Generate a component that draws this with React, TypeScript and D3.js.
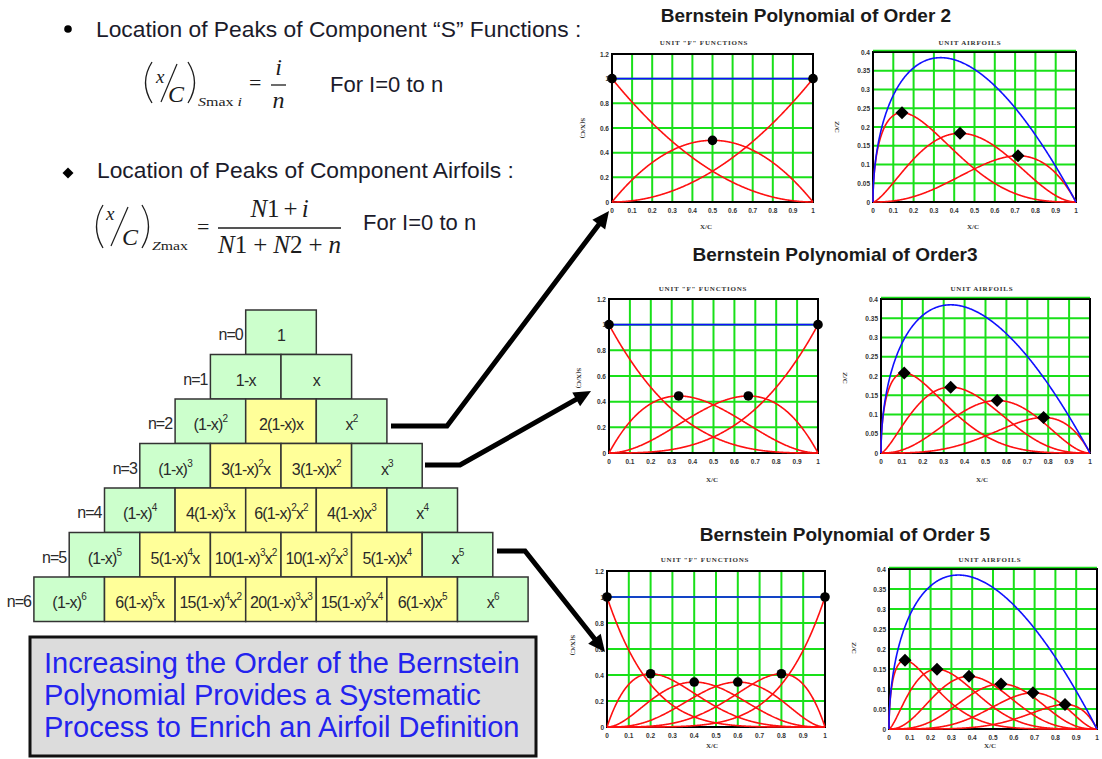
import React from "react";
import * as d3 from "d3";

// Polynomial orders shown on the right, and the class-function exponents
const ORDERS = [2, 3, 5];
const N1 = 0.5;
const N2 = 1.0;

// Axis ticks
const X_TICKS = [0, 0.1, 0.2, 0.3, 0.4, 0.5, 0.6, 0.7, 0.8, 0.9, 1];
const X_TICK_LABELS = ["0", "0.1", "0.2", "0.3", "0.4", "0.5", "0.6", "0.7", "0.8", "0.9", "1"];
const S_TICKS = [0, 0.2, 0.4, 0.6, 0.8, 1, 1.2];
const S_TICK_LABELS = ["0", "0.2", "0.4", "0.6", "0.8", "1", "1.2"];
const Z_TICKS = [0, 0.05, 0.1, 0.15, 0.2, 0.25, 0.3, 0.35, 0.4];
const Z_TICK_LABELS = ["0", "0.05", "0.1", "0.15", "0.2", "0.25", "0.3", "0.35", "0.4"];

// Pascal-style pyramid of Bernstein terms ("^k" marks a superscript)
const ROW_LABELS = ["n=0", "n=1", "n=2", "n=3", "n=4", "n=5", "n=6"];
const PYRAMID_ROWS = [
  ["1"],
  ["1-x", "x"],
  ["(1-x)^2", "2(1-x)x", "x^2"],
  ["(1-x)^3", "3(1-x)^2x", "3(1-x)x^2", "x^3"],
  ["(1-x)^4", "4(1-x)^3x", "6(1-x)^2x^2", "4(1-x)x^3", "x^4"],
  ["(1-x)^5", "5(1-x)^4x", "10(1-x)^3x^2", "10(1-x)^2x^3", "5(1-x)x^4", "x^5"],
  ["(1-x)^6", "6(1-x)^5x", "15(1-x)^4x^2", "20(1-x)^3x^3", "15(1-x)^2x^4", "6(1-x)x^5", "x^6"],
];

const NOTE_LINES = [
  "Increasing the Order of the Bernstein",
  "Polynomial Provides a Systematic",
  "Process to Enrich an Airfoil Definition",
];

const SANS = "'Liberation Sans', Arial, Helvetica, sans-serif";
const SERIF = "'Liberation Serif', 'Times New Roman', serif";

// Layout of the three chart pairs
const PANELS = [
  {
    title: "Bernstein Polynomial of Order 2", tx: 806, ty: 22,
    s: { l: 612, r: 813, t: 54, b: 202 }, z: { l: 873, r: 1076, t: 52, b: 202 },
    subY: 45, sSubX: 704, zSubX: 970, xlabY: 229, sXlabX: 706, zXlabX: 973,
    sYlab: [581, 128], zYlab: [835, 127],
  },
  {
    title: "Bernstein Polynomial of Order3", tx: 835, ty: 261,
    s: { l: 609, r: 818, t: 299, b: 453 }, z: { l: 881, r: 1090, t: 299, b: 453 },
    subY: 291, sSubX: 703, zSubX: 982, xlabY: 482, sXlabX: 712, zXlabX: 982,
    sYlab: [577, 378], zYlab: [843, 378],
  },
  {
    title: "Bernstein Polynomial of Order 5", tx: 845, ty: 541,
    s: { l: 607, r: 825, t: 571, b: 727 }, z: { l: 889, r: 1097, t: 569, b: 729 },
    subY: 562, sSubX: 705, zSubX: 990, xlabY: 748, sXlabX: 712, zXlabX: 990,
    sYlab: [571, 645], zYlab: [852, 648],
  },
];

function binom(n: number, k: number) {
  let r = 1;
  for (let j = 1; j <= k; j++) r = (r * (n - k + j)) / j;
  return r;
}
const bern = (n: number, i: number, x: number) =>
  binom(n, i) * Math.pow(x, i) * Math.pow(1 - x, n - i);
const classFn = (x: number) => Math.pow(x, N1) * Math.pow(1 - x, N2);

const XS = [0, 0.0002, 0.0008, 0.002, 0.004].concat(d3.range(1, 401).map((k) => k / 400));

type Box = { l: number; r: number; t: number; b: number };

function Chart({ order, box, kind }: { order: number; box: Box; kind: "s" | "z" }) {
  const isS = kind === "s";
  const ticks = isS ? S_TICKS : Z_TICKS;
  const tickLabels = isS ? S_TICK_LABELS : Z_TICK_LABELS;
  const x = d3.scaleLinear().domain([0, 1]).range([box.l, box.r]);
  const y = d3.scaleLinear().domain([0, ticks[ticks.length - 1]]).range([box.b, box.t]);
  const line = d3
    .line<[number, number]>()
    .x((d) => x(d[0]))
    .y((d) => y(d[1]));

  const comp = (i: number, v: number) => (isS ? bern(order, i, v) : classFn(v) * bern(order, i, v));
  const idx = d3.range(0, order + 1);
  const reds = idx.map((i) => line(XS.map((v) => [v, comp(i, v)] as [number, number])) || "");
  const blue = line(XS.map((v) => [v, d3.sum(idx, (i) => comp(i, v))] as [number, number])) || "";

  const peaks = idx.map((i) => {
    const px = isS ? i / order : (N1 + i) / (N1 + N2 + order);
    return [px, comp(i, px)] as [number, number];
  });

  const green = "#19e019";
  return (
    <g>
      {X_TICKS.slice(1, -1).map((t) => (
        <line key={"v" + t} x1={x(t)} x2={x(t)} y1={box.t} y2={box.b} stroke={green} strokeWidth={2} />
      ))}
      {ticks.slice(1, isS ? -1 : undefined).map((t) => (
        <line key={"h" + t} x1={box.l} x2={box.r} y1={y(t)} y2={y(t)} stroke={green} strokeWidth={2} />
      ))}
      <rect x={box.l} y={box.t} width={box.r - box.l} height={box.b - box.t} fill="none" stroke="#000" strokeWidth={2} />
      {!isS && <line x1={box.l} x2={box.r} y1={box.t - 1.5} y2={box.t - 1.5} stroke={green} strokeWidth={1.5} />}
      {reds.map((p, i) => (
        <path key={"r" + i} d={p} fill="none" stroke="#ff1010" strokeWidth={1.6} />
      ))}
      <path d={blue} fill="none" stroke="#1010ff" strokeWidth={1.6} />
      {peaks.map(([px, py], i) =>
        isS ? (
          <circle key={"m" + i} cx={x(px)} cy={y(py)} r={4.8} fill="#000" />
        ) : (
          <path
            key={"m" + i}
            d={`M${x(px)},${y(py) - 6.5}L${x(px) + 6.5},${y(py)}L${x(px)},${y(py) + 6.5}L${x(px) - 6.5},${y(py)}Z`}
            fill="#000"
          />
        )
      )}
      {X_TICKS.map((t, i) => (
        <text key={"xt" + i} x={x(t)} y={box.b + 11} fontSize={6.5} fontWeight="bold" fontFamily={SANS} fill="#333" textAnchor="middle">
          {X_TICK_LABELS[i]}
        </text>
      ))}
      {ticks.map((t, i) => (
        <text key={"yt" + i} x={box.l - 3} y={y(t) + 2.5} fontSize={6.5} fontWeight="bold" fontFamily={SANS} fill="#333" textAnchor="end">
          {tickLabels[i]}
        </text>
      ))}
    </g>
  );
}

function Term({ label, cx, y }: { label: string; cx: number; y: number }) {
  const parts = label.split(/\^(\d)/);
  return (
    <text x={cx} y={y} textAnchor="middle" fontFamily={SANS} fontSize={16} letterSpacing={-0.8} fill="#2a2a2a">
      {parts.map((p, k) =>
        k % 2 === 1 ? (
          <tspan key={k} dy={-8} fontSize={10}>
            {p}
          </tspan>
        ) : (
          <tspan key={k} dy={k > 0 ? 8 : 0}>
            {p}
          </tspan>
        )
      )}
    </text>
  );
}

function Arrow({ pts }: { pts: [number, number][] }) {
  const tip = pts[pts.length - 1];
  const prev = pts[pts.length - 2];
  const dx = tip[0] - prev[0];
  const dy = tip[1] - prev[1];
  const len = Math.hypot(dx, dy);
  const ux = dx / len;
  const uy = dy / len;
  const L = 17;
  const W = 8;
  const bx = tip[0] - ux * L;
  const by = tip[1] - uy * L;
  const shaft = pts.slice(0, -1).concat([[bx + ux * 3, by + uy * 3]]);
  return (
    <g>
      <polyline points={shaft.map((p) => p.join(",")).join(" ")} fill="none" stroke="#000" strokeWidth={5} strokeLinejoin="miter" />
      <polygon
        points={`${tip[0]},${tip[1]} ${bx - uy * W},${by + ux * W} ${bx + uy * W},${by - ux * W}`}
        fill="#000"
      />
    </g>
  );
}

function Pyramid() {
  const cellW = 70.6;
  const rowH = 44.5;
  const cx = 281;
  const top = 310;
  return (
    <g>
      {PYRAMID_ROWS.map((row, n) => {
        const left = cx - ((n + 1) * cellW) / 2;
        const ty = top + n * rowH;
        return (
          <g key={n}>
            {row.map((lab, i) => {
              const edge = i === 0 || i === row.length - 1;
              return (
                <g key={i}>
                  <rect
                    x={left + i * cellW}
                    y={ty}
                    width={cellW}
                    height={rowH}
                    fill={edge ? "#ccffcc" : "#ffff99"}
                    stroke="#333"
                    strokeWidth={1.5}
                  />
                  <Term label={lab} cx={left + i * cellW + cellW / 2} y={ty + 31} />
                </g>
              );
            })}
            <text x={left - 3} y={ty + 30} textAnchor="end" fontFamily={SANS} fontSize={16} letterSpacing={-1} fill="#2a2a2a">
              {ROW_LABELS[n]}
            </text>
          </g>
        );
      })}
    </g>
  );
}

function Formulas() {
  const ink = "#1c1c1c";
  return (
    <g fill={ink}>
      {/* first bullet */}
      <circle cx={68} cy={29} r={3.8} fill="#000" />
      <text x={96} y={37} fontFamily={SANS} fontSize={22.8} fill="#1b1b2b">
        Location of Peaks of Component “S” Functions :
      </text>
      <path d="M152,62 Q139,82.5 152,103" fill="none" stroke={ink} strokeWidth={1.3} />
      <text x={156} y={83} fontFamily={SERIF} fontStyle="italic" fontSize={19}>x</text>
      <line x1={177} y1={64} x2={161} y2={102} stroke={ink} strokeWidth={1.2} />
      <text x={168} y={102} fontFamily={SERIF} fontStyle="italic" fontSize={24}>C</text>
      <path d="M188,62 Q201,82.5 188,103" fill="none" stroke={ink} strokeWidth={1.3} />
      <text x={198} y={106} fontFamily={SERIF} fontSize={12} textLength={44} lengthAdjust="spacingAndGlyphs">
        <tspan fontStyle="italic">S</tspan>max <tspan fontStyle="italic">i</tspan>
      </text>
      <text x={249} y={90} fontFamily={SERIF} fontSize={22}>=</text>
      <text x={278.5} y={75} fontFamily={SERIF} fontStyle="italic" fontSize={24} textAnchor="middle">i</text>
      <line x1={271} y1={85} x2={286} y2={85} stroke={ink} strokeWidth={1.3} />
      <text x={278.5} y={108} fontFamily={SERIF} fontStyle="italic" fontSize={24} textAnchor="middle">n</text>
      <text x={330} y={92} fontFamily={SANS} fontSize={22} fill="#1b1b2b">For I=0 to n</text>

      {/* second bullet */}
      <path d="M68,167.5 L73.5,173 L68,178.5 L62.5,173 Z" fill="#000" />
      <text x={97} y={178} fontFamily={SANS} fontSize={22.8} fill="#1b1b2b">
        Location of Peaks of Component Airfoils :
      </text>
      <path d="M103,205 Q90,226.5 103,248" fill="none" stroke={ink} strokeWidth={1.3} />
      <text x={106} y={220} fontFamily={SERIF} fontStyle="italic" fontSize={19}>x</text>
      <line x1={128} y1={207} x2={111} y2={246} stroke={ink} strokeWidth={1.2} />
      <text x={122} y={245} fontFamily={SERIF} fontStyle="italic" fontSize={24}>C</text>
      <path d="M142,205 Q155,226.5 142,248" fill="none" stroke={ink} strokeWidth={1.3} />
      <text x={152} y={250} fontFamily={SERIF} fontSize={12} textLength={36} lengthAdjust="spacingAndGlyphs">
        <tspan fontStyle="italic">Z</tspan>max
      </text>
      <text x={197} y={234} fontFamily={SERIF} fontSize={22}>=</text>
      <text x={279.5} y={217} fontFamily={SERIF} fontSize={25} textAnchor="middle">
        <tspan fontStyle="italic">N</tspan>1<tspan dx={4}>+</tspan><tspan dx={4} fontStyle="italic">i</tspan>
      </text>
      <line x1={218} y1={228} x2={341} y2={228} stroke={ink} strokeWidth={1.3} />
      <text x={279.5} y={253} fontFamily={SERIF} fontSize={25} textAnchor="middle">
        <tspan fontStyle="italic">N</tspan>1<tspan dx={6}>+</tspan>
        <tspan dx={6} fontStyle="italic">N</tspan>2<tspan dx={6}>+</tspan>
        <tspan dx={6} fontStyle="italic">n</tspan>
      </text>
      <text x={363} y={230} fontFamily={SANS} fontSize={22} fill="#1b1b2b">For I=0 to n</text>
    </g>
  );
}

export default function App() {
  return (
    <svg
      width={1102}
      height={759}
      viewBox="0 0 1102 759"
      style={{ position: "absolute", left: 0, top: 0, background: "#fff" }}
    >
      <rect width={1102} height={759} fill="#fff" />
      <Formulas />
      <Pyramid />

      {/* note box */}
      <rect x={30} y={637} width={506} height={119} fill="#dcdcdc" stroke="#111" strokeWidth={3} />
      {NOTE_LINES.map((t, i) => (
        <text key={i} x={44} y={673 + i * 32} fontFamily={SANS} fontSize={29} fill="#2323ee">
          {t}
        </text>
      ))}

      {PANELS.map((p, k) => (
        <g key={k}>
          <text x={p.tx} y={p.ty} textAnchor="middle" fontFamily={SANS} fontWeight="bold" fontSize={19} fill="#1a1a1a">
            {p.title}
          </text>
          <text x={p.sSubX} y={p.subY} textAnchor="middle" fontFamily={SERIF} fontWeight="bold" fontSize={7} letterSpacing={0.8} fill="#333">
            UNIT "F" FUNCTIONS
          </text>
          <text x={p.zSubX} y={p.subY} textAnchor="middle" fontFamily={SERIF} fontWeight="bold" fontSize={7} letterSpacing={0.8} fill="#333">
            UNIT AIRFOILS
          </text>
          <Chart order={ORDERS[k]} box={p.s} kind="s" />
          <Chart order={ORDERS[k]} box={p.z} kind="z" />
          <text x={p.sXlabX} y={p.xlabY} textAnchor="middle" fontFamily={SERIF} fontWeight="bold" fontSize={7} fill="#333">X/C</text>
          <text x={p.zXlabX} y={p.xlabY} textAnchor="middle" fontFamily={SERIF} fontWeight="bold" fontSize={7} fill="#333">X/C</text>
          <text
            transform={`translate(${p.sYlab[0]},${p.sYlab[1]}) rotate(90)`}
            textAnchor="middle"
            fontFamily={SERIF}
            fontWeight="bold"
            fontSize={7}
            fill="#333"
          >
            S(X/C)
          </text>
          <text
            transform={`translate(${p.zYlab[0]},${p.zYlab[1]}) rotate(90)`}
            textAnchor="middle"
            fontFamily={SERIF}
            fontWeight="bold"
            fontSize={7}
            fill="#333"
          >
            Z/C
          </text>
        </g>
      ))}

      <Arrow pts={[[391, 426], [447, 426], [609, 211]]} />
      <Arrow pts={[[425, 465], [460, 465], [591, 391]]} />
      <Arrow pts={[[497, 551], [525, 551], [605, 652]]} />
    </svg>
  );
}
